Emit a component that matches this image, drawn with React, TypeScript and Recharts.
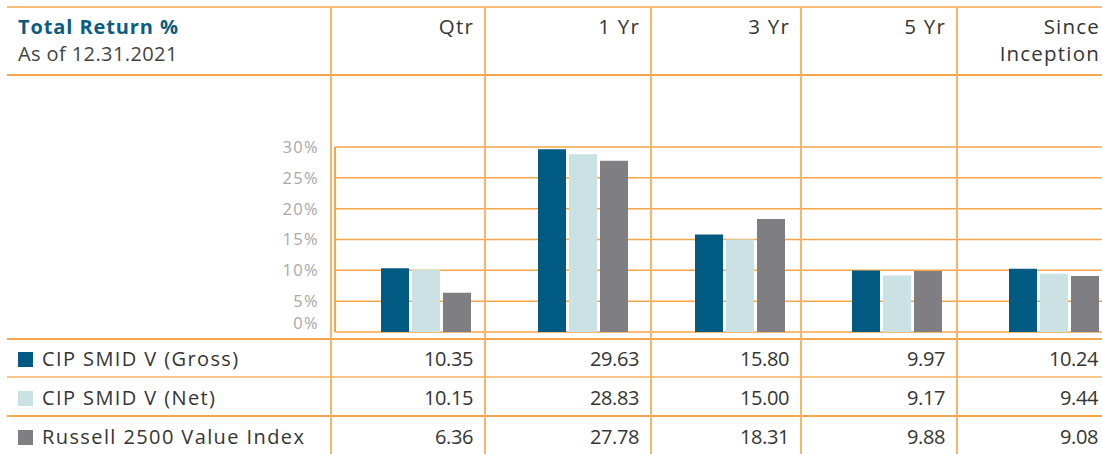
import { BarChart, Bar, XAxis, YAxis, CartesianGrid } from 'recharts'

const periods = ['Qtr', '1 Yr', '3 Yr', '5 Yr', 'Since\nInception']
const gross = [10.35, 29.63, 15.8, 9.97, 10.24]
const net = [10.15, 28.83, 15.0, 9.17, 9.44]
const russell = [6.36, 27.78, 18.31, 9.88, 9.08]
const seriesNames = ['CIP SMID V (Gross)', 'CIP SMID V (Net)', 'Russell 2500 Value Index']
const seriesColors = ['#005A82', '#CBE2E5', '#7F7F83']
const yTicks = [0, 5, 10, 15, 20, 25, 30]

const data = periods.map((p, i) => ({ period: p, gross: gross[i], net: net[i], russell: russell[i] }))
const rows = [gross, net, russell]

// table layout
const colEdges = [331, 485, 651, 801, 957, 1102]
const rowCenters = [359, 398, 437]
const rowLines = [339, 377, 416]
const ORANGE = '#F6A548'
const FONT = '"Open Sans", sans-serif'

const YTick = (props: any) => {
  const { x, y, payload } = props
  const shift = payload.value === 0 ? -9 : 0
  return (
    <text x={x} y={y + shift} dy="0.36em" textAnchor="end" fill="#A8A8A8" fontSize={16.5}
      letterSpacing={1.3} fontFamily={FONT}>
      {payload.value}%
    </text>
  )
}

export default function App() {
  return (
    <div style={{ position: 'absolute', left: 0, top: 0, width: 1102, height: 454, overflow: 'hidden', background: '#fff', fontFamily: FONT, color: '#353535' }}>
      {/* title */}
      <div style={{ position: 'absolute', left: 18, top: 13, fontSize: 20, fontWeight: 700, color: '#0B5C82', lineHeight: '28px', letterSpacing: 0.9 }}>
        Total Return %
      </div>
      <div style={{ position: 'absolute', left: 18, top: 40, fontSize: 20, color: '#444', lineHeight: '28px', letterSpacing: 0.4 }}>
        As of 12.31.2021
      </div>

      {/* header labels */}
      {periods.map((p, i) => (
        <div key={p} style={{
          position: 'absolute', left: colEdges[i], width: colEdges[i + 1] - colEdges[i] - (i === 4 ? 2 : 11),
          top: 13, textAlign: 'right', fontSize: 20.5, lineHeight: '27px', whiteSpace: 'pre-line',
          letterSpacing: 1.2
        }}>{p}</div>
      ))}

      {/* chart */}
      <div style={{ position: 'absolute', left: 0, top: 0 }}>
        <BarChart width={1132} height={340} data={data} margin={{ top: 147, right: 0, bottom: 8, left: 255 }}
          barSize={28} barGap={3}>
          <CartesianGrid horizontal vertical={false} stroke={ORANGE} strokeWidth={1.5} />
          <XAxis dataKey="period" hide padding={{ left: 12, right: 0 }} />
          <YAxis domain={[0, 30]} ticks={yTicks} interval={0} width={80} tickSize={0} tickMargin={16}
            axisLine={{ stroke: ORANGE, strokeWidth: 2 }} tickLine={false} tick={<YTick />} />
          <Bar dataKey="gross" fill={seriesColors[0]} isAnimationActive={false} />
          <Bar dataKey="net" fill={seriesColors[1]} isAnimationActive={false} />
          <Bar dataKey="russell" fill={seriesColors[2]} isAnimationActive={false} />
        </BarChart>
      </div>

      {/* horizontal table lines */}
      <div style={{ position: 'absolute', left: 7, right: 0, top: 6, height: 2, background: '#F9BD78' }} />
      <div style={{ position: 'absolute', left: 7, right: 0, top: 74, height: 2, background: ORANGE }} />
      {rowLines.map((y, i) => (
        <div key={y} style={{ position: 'absolute', left: 7, right: 0, top: y - 1, height: 2, background: i === 1 ? '#F9C588' : ORANGE }} />
      ))}

      {/* vertical table lines */}
      {colEdges.slice(0, 5).map(x => (
        <div key={x} style={{ position: 'absolute', top: 7, bottom: 0, left: x - 1, width: 2, background: '#F8B468' }} />
      ))}

      {/* data rows */}
      {rows.map((vals, r) => (
        <div key={r}>
          <div style={{ position: 'absolute', left: 18, top: rowCenters[r] - 7.5, width: 15, height: 15, background: seriesColors[r] }} />
          <div style={{ position: 'absolute', left: 42, top: rowCenters[r] - 14, lineHeight: '28px', fontSize: 20, letterSpacing: 1.4 }}>
            {seriesNames[r]}
          </div>
          {vals.map((v, i) => (
            <div key={i} style={{
              position: 'absolute', left: colEdges[i], width: colEdges[i + 1] - colEdges[i] - (i === 4 ? 4 : 12),
              top: rowCenters[r] - 14, lineHeight: '28px', fontSize: 20, textAlign: 'right', letterSpacing: -0.4
            }}>{v.toFixed(2)}</div>
          ))}
        </div>
      ))}
    </div>
  )
}
